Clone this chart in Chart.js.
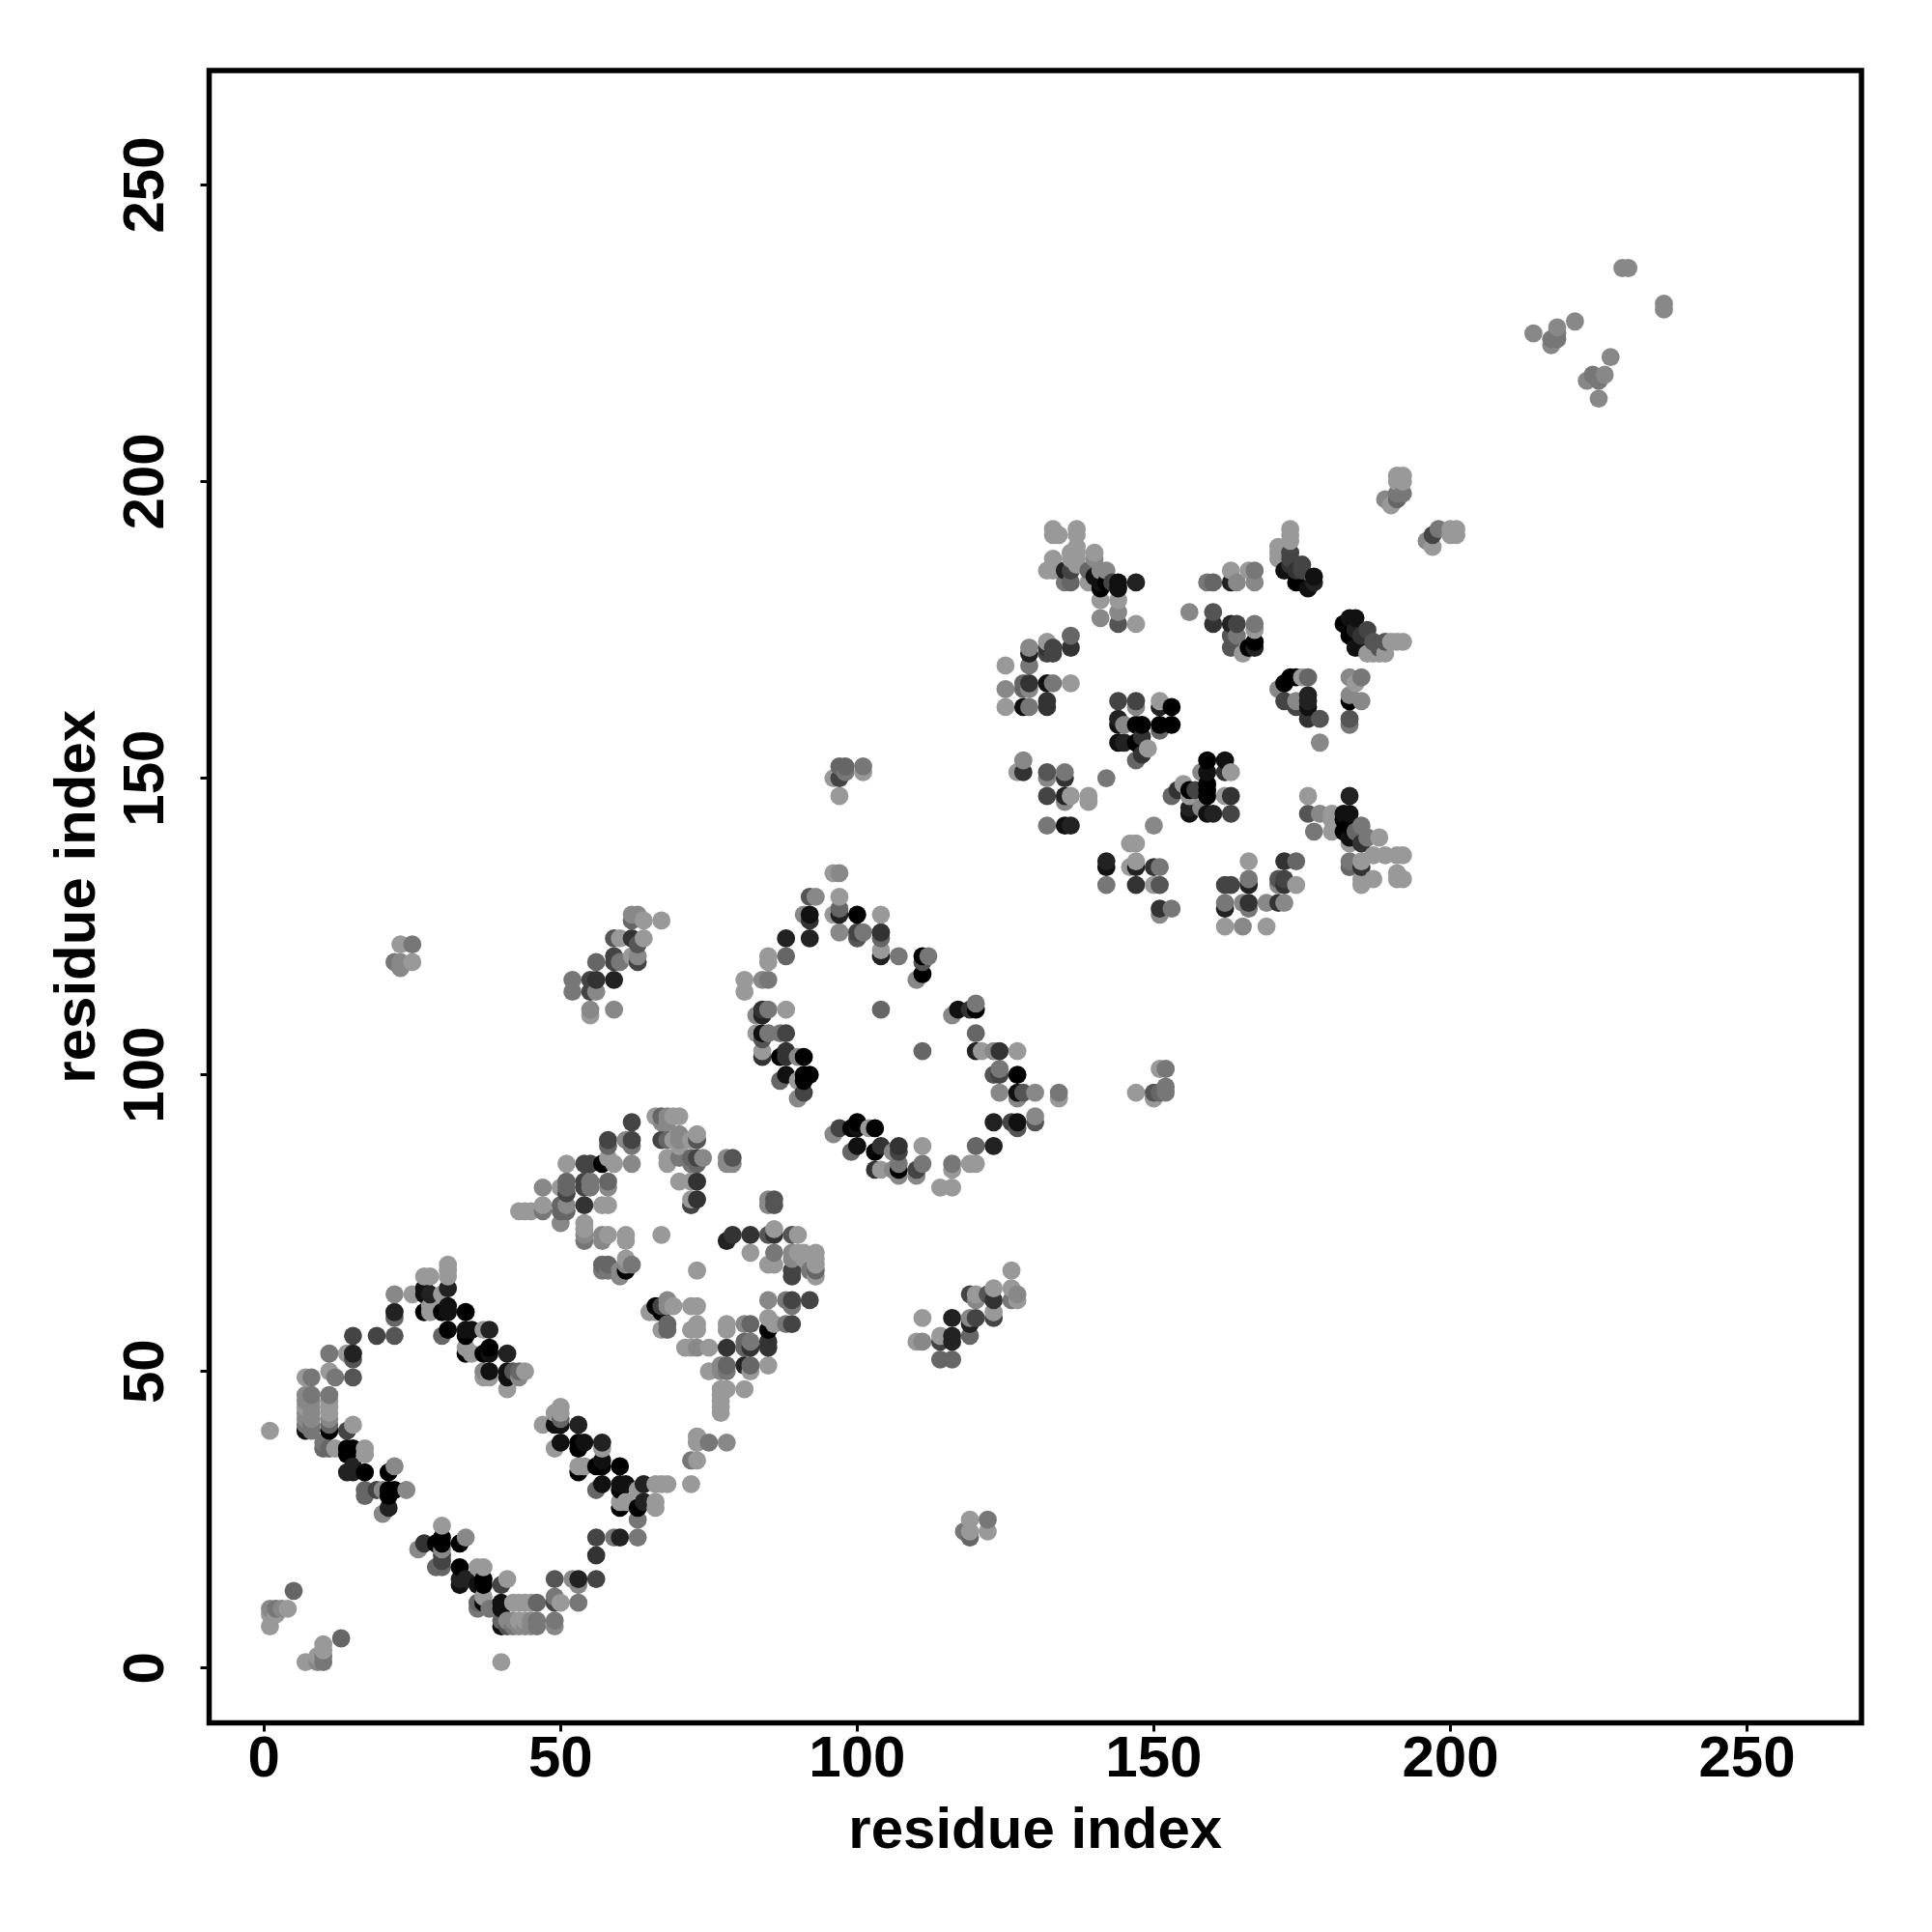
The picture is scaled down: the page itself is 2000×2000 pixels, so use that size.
<!DOCTYPE html>
<html>
<head>
<meta charset="utf-8">
<style>html,body{margin:0;padding:0;background:#fff}canvas{display:block}</style>
<script src="https://cdn.jsdelivr.net/npm/chart.js@4/dist/chart.umd.min.js"></script>
</head>
<body>
<canvas id="c" width="2000" height="2000"></canvas>
<script>
// Each contact: [residue x, residue y, darkness level 0 (strongest) .. 9 (weakest)]
const xTicks = [0, 50, 100, 150, 200, 250];
const yTicks = [0, 50, 100, 150, 200, 250];
const axisLabel = "residue index";

const nearOrigin = [[5,13,6],[1,10,8],[2,10,7],[3,10,8],[4,10,9],[2,9,9],[1,9,9],[1,7,9],[13,5,6],[10,4,9],[10,3,9],[9,2,9],[7,1,9],[9,1,8],[10,1,7],[10,2,7],[40,1,9],[1,40,9]];
const ringLeft = [[7,40,1],[7,41,7],[7,42,8],[7,43,8],[7,44,9],[7,45,8],[7,46,8],[8,40,7],[8,41,7],[8,42,8],[8,43,8],[8,44,8],[8,45,8],[8,46,7],[11,40,0],[11,41,6],[11,42,8],[11,43,9],[11,44,9],[11,45,9],[11,46,7],[7,49,9],[8,49,7],[11,50,9],[12,49,7],[15,49,5],[11,53,7],[14,53,9],[15,53,2],[15,52,5],[15,56,4],[19,56,4],[22,56,5],[22,60,2],[22,59,6],[22,63,8],[25,63,9]];
const ringTop = [[27,66,9],[28,66,9],[27,64,1],[27,63,1],[28,63,2],[27,60,0],[28,60,9],[28,61,9],[31,68,9],[31,67,9],[31,66,9],[31,64,2],[30,63,9],[31,61,1],[30,60,0],[31,60,1],[34,60,0],[30,56,6],[31,57,0],[34,57,1],[34,56,0],[35,57,1],[37,57,9],[38,57,2],[34,54,9],[34,53,0],[35,53,9],[37,53,0],[38,54,0],[38,53,1],[41,53,2],[37,50,8],[37,49,9],[38,50,1],[38,49,9],[41,50,1],[41,49,1],[42,50,5],[43,50,6],[44,50,9],[41,47,9],[43,49,8]];
const ringLowerLeft = [[15,41,9],[14,40,4],[10,38,7],[10,37,6],[11,37,6],[12,37,9],[14,37,0],[14,36,0],[15,37,0],[17,37,9],[17,36,9],[14,33,2],[15,34,2],[15,33,2],[17,33,0],[22,34,8],[21,33,0],[17,30,6],[17,29,6],[19,30,4],[20,30,8],[21,30,0],[22,30,0],[21,29,0],[24,30,8],[21,27,2],[20,26,8]];
const ringBottom = [[30,24,9],[27,21,3],[26,20,8],[29,21,0],[30,22,0],[30,21,0],[30,20,8],[30,19,4],[30,18,4],[29,17,6],[30,17,6],[33,21,0],[34,22,8],[33,17,0],[33,14,1],[33,15,2],[34,15,2],[36,17,9],[37,17,9],[37,15,0],[37,14,0],[36,14,1],[41,15,9],[40,14,4],[36,11,6],[36,10,7],[37,11,0],[37,12,9],[38,10,7],[40,11,1],[40,10,1],[42,11,9],[43,11,9],[44,11,9],[45,11,9],[46,11,6],[40,7,1],[40,8,6],[41,7,5],[41,8,8],[42,7,7],[42,8,8],[43,7,8],[43,8,9],[44,7,8],[44,8,9],[45,7,8],[45,8,8],[46,7,7],[46,8,7],[49,8,7],[49,7,8],[49,15,5],[49,12,7],[49,11,4],[50,11,9],[52,15,8],[53,15,2],[53,14,8],[53,11,7],[56,15,4],[56,19,3],[56,22,4],[59,22,7],[60,22,2],[63,22,7],[63,25,7]];
const ringRight = [[50,44,9],[50,43,9],[49,43,9],[50,42,6],[49,41,1],[50,41,1],[47,41,9],[53,41,2],[49,37,9],[50,38,1],[53,38,0],[54,38,1],[53,37,0],[57,38,2],[57,37,9],[53,34,9],[53,33,0],[54,34,9],[56,34,0],[57,35,1],[57,34,0],[60,34,0],[56,30,6],[57,31,1],[60,31,1],[60,30,0],[61,31,1],[64,31,2],[63,30,9],[66,31,9],[67,31,9],[68,31,9],[60,28,9],[60,27,0],[61,28,9],[63,27,0],[64,28,2],[66,28,9],[66,27,9],[72,31,9],[72,35,7],[73,35,9],[73,39,9],[73,38,8],[75,38,7],[78,38,8]];
const blockNorth = [[62,92,4],[58,89,4],[58,88,6],[61,89,8],[62,89,4],[62,88,7],[51,85,9],[54,85,4],[55,85,4],[57,85,0],[58,86,9],[59,85,9],[62,85,8],[47,81,8],[50,81,9],[51,82,6],[51,81,6],[51,80,4],[54,82,4],[54,81,4],[55,82,7],[55,81,7],[58,82,6],[58,81,8],[43,77,9],[44,77,9],[45,77,9],[47,78,9],[47,77,7],[50,78,6],[50,77,6],[51,78,8],[51,77,6],[50,75,8],[54,78,3],[54,75,9],[54,74,9],[57,78,9],[58,78,9],[54,73,8],[54,72,7],[57,73,8],[57,72,8],[58,73,9],[61,73,9],[61,72,9],[67,73,9],[57,68,6],[57,67,7],[58,68,6],[58,67,7],[60,67,8],[60,66,8],[61,69,9],[61,67,0],[61,68,8],[62,68,7]];
const blockCrest = [[66,93,9],[67,93,6],[68,93,8],[69,93,9],[70,93,9],[67,92,8],[68,92,8],[67,89,4],[68,89,6],[69,89,9],[70,90,8],[70,89,8],[70,88,9],[72,89,9],[73,90,9],[73,89,5],[68,86,9],[68,85,9],[70,86,7],[72,86,6],[72,85,7],[73,86,4],[73,85,6],[74,86,8],[78,86,8],[79,86,5],[78,85,8],[79,85,8],[70,82,9],[72,82,9],[73,82,3],[72,79,9],[72,78,4],[73,79,3],[85,79,8],[86,79,5],[85,78,8],[86,78,5]];
const blockEast = [[78,72,2],[79,73,3],[82,73,3],[82,70,9],[85,73,5],[86,73,3],[86,74,9],[89,73,5],[90,73,9],[86,70,7],[85,68,9],[86,68,9],[89,70,8],[90,70,9],[89,69,8],[89,67,4],[89,66,4],[93,70,9],[93,69,9],[93,68,9],[93,67,6],[93,66,9],[92,67,7],[91,70,9],[91,69,9],[73,67,9]];
const blockSouth = [[65,60,9],[66,61,0],[67,61,4],[68,62,8],[69,61,9],[66,60,9],[67,60,0],[68,58,6],[68,57,6],[67,57,9],[68,61,8],[72,61,9],[73,61,9],[72,57,9],[73,58,9],[73,57,9],[85,62,8],[88,62,7],[89,62,4],[89,61,7],[92,62,4],[85,59,9],[78,58,9],[78,57,9],[81,58,8],[82,58,6],[85,57,0],[86,58,9],[88,58,7],[89,58,4],[85,55,3],[85,54,3],[82,55,7],[81,55,6],[82,54,3],[81,54,6],[78,54,3],[75,54,9],[73,54,8],[72,54,9],[71,54,9],[75,50,9],[77,51,8],[78,51,6],[78,50,7],[77,50,8],[81,51,2],[82,51,6],[82,50,9],[85,51,9],[78,47,9],[77,47,9],[77,46,9],[77,45,9],[77,44,9],[77,43,9],[81,47,9],[73,39,9],[73,38,9]];
const loopUpperLeft = [[96,134,9],[97,134,8],[92,130,5],[93,130,8],[97,130,9],[97,128,6],[91,127,8],[92,127,1],[92,126,3],[96,127,9],[97,127,2],[100,127,0],[104,127,9],[88,123,2],[92,123,2],[97,124,8],[100,124,4],[100,123,5],[101,124,7],[104,124,3],[104,123,6],[104,121,9],[104,120,2],[107,120,7],[85,120,9],[85,119,9],[88,120,6],[81,116,9],[81,114,9],[84,116,8],[85,116,7],[111,120,0],[112,120,7],[111,119,5],[111,117,0],[110,116,8],[84,111,3],[85,111,7],[88,111,9],[83,110,8],[84,110,2],[104,111,6]];
const loopLowerLeft = [[83,107,9],[84,107,1],[85,107,7],[84,106,5],[87,107,7],[88,107,4],[84,104,9],[84,103,3],[87,103,0],[88,104,3],[88,103,3],[90,103,8],[91,103,0],[87,99,6],[88,100,1],[90,99,9],[91,99,0],[92,100,0],[91,100,0],[91,97,4],[90,96,8],[111,104,6]];
const loopRight = [[116,110,8],[117,111,1],[119,111,3],[120,111,0],[120,112,7],[120,107,6],[120,104,2],[121,104,9],[123,104,8],[124,104,3],[127,104,9],[123,100,5],[124,101,7],[124,100,4],[127,100,0],[124,97,8],[127,97,1],[128,97,5],[127,96,8],[130,97,8],[134,97,7],[134,96,9],[123,92,2],[126,92,4],[127,92,1],[127,91,5],[130,93,8],[130,92,5],[120,88,6],[123,88,2],[116,85,7],[116,84,9],[119,85,9],[120,85,9],[114,81,9],[116,81,9]];
const loopBottom = [[96,90,8],[97,91,4],[99,91,0],[100,92,0],[100,91,1],[102,91,9],[103,91,0],[99,87,6],[100,88,1],[103,87,0],[104,88,3],[107,88,3],[107,87,4],[111,88,9],[106,87,8],[103,84,3],[104,84,9],[106,84,8],[107,85,7],[107,84,0],[107,83,8],[110,84,4],[111,85,7],[110,83,8]];
const sideA = [[23,122,9],[25,122,7],[22,119,7],[23,119,8],[25,119,9],[23,118,8],[52,116,7],[52,114,7],[55,116,4],[56,116,3],[59,116,2],[55,114,4],[56,114,8],[55,111,8],[55,110,9],[59,111,8],[56,119,6],[59,119,4],[59,120,4],[60,119,7],[59,123,5],[60,123,9],[62,123,3],[63,122,5],[64,123,9],[62,120,9],[63,120,8],[63,119,4],[62,127,8],[63,127,8],[62,126,6],[64,126,9],[67,126,9]];
const sideB = [[96,150,9],[97,152,6],[98,152,6],[97,150,4],[98,151,7],[101,152,7],[101,151,9],[97,147,9],[147,97,9],[151,101,9],[152,101,7],[150,97,5],[150,96,9],[151,97,6],[152,97,7],[152,98,7]];
const sideC = [[126,67,9],[111,59,9],[110,55,9],[111,55,8],[114,56,9],[114,55,4],[116,59,2],[116,56,2],[116,55,2],[114,52,6],[116,52,6],[119,56,6],[119,59,8],[119,58,2],[120,59,4],[119,63,4],[120,63,9],[120,62,8],[122,63,5],[123,64,9],[123,62,3],[123,60,9],[123,59,4],[126,64,9],[126,62,7],[127,63,8],[127,62,9],[119,25,9],[122,25,7],[122,23,9],[118,23,7],[119,23,9],[119,22,6]];
const wheelSouthWest = [[128,153,8],[127,151,9],[128,151,3],[132,151,5],[132,150,8],[135,151,7],[135,150,3],[142,150,7],[132,147,4],[135,147,2],[135,146,8],[136,147,9],[139,147,9],[139,146,9],[132,142,7],[135,142,1],[136,142,2],[150,142,8],[146,139,9],[147,139,9],[142,136,2],[142,135,1],[142,132,7],[147,136,9],[146,135,9],[147,135,2],[150,135,3],[151,135,7],[147,132,3],[150,132,9],[151,132,5],[151,128,3],[153,128,7],[151,127,8]];
const wheelCentre = [[155,149,9],[153,147,6],[154,148,3],[156,148,0],[156,147,9],[157,148,4],[159,153,0],[159,151,1],[158,151,8],[162,153,1],[162,151,3],[163,151,9],[159,148,0],[159,147,0],[159,149,0],[162,147,9],[163,147,3],[156,145,2],[156,144,1],[159,144,1],[160,144,2],[158,145,8],[163,144,4]];
const wheelEast = [[176,147,9],[183,147,2],[176,144,5],[178,144,8],[180,144,9],[177,141,7],[180,141,9],[180,143,9],[182,144,1],[183,144,1],[182,143,0],[182,141,0],[183,142,0],[184,141,6],[185,142,7],[183,140,1],[186,140,7],[188,140,9],[183,139,9],[185,139,3],[183,136,7],[183,135,6],[185,136,9],[187,137,9],[189,137,9],[191,137,9],[192,137,9],[185,135,3],[185,133,9],[185,132,9],[187,133,9],[191,134,9],[191,133,9],[192,133,9]];
const wheelSouth = [[162,132,4],[163,132,4],[166,136,9],[166,133,7],[166,132,2],[172,136,3],[174,136,6],[171,133,5],[171,132,8],[172,133,4],[172,132,3],[174,132,9],[162,129,7],[162,128,2],[165,129,8],[166,129,3],[166,128,7],[169,129,8],[171,129,3],[172,129,8],[162,125,9],[165,125,8],[169,125,9]];
const wheelNorthWest = [[133,192,9],[133,191,9],[134,191,9],[137,192,9],[137,191,9],[137,189,9],[136,188,9],[137,188,9],[140,188,9],[133,187,9],[136,187,9],[137,187,9],[140,187,8],[132,185,9],[133,185,9],[136,185,4],[137,186,9],[135,185,2],[135,183,7],[136,183,6],[139,185,6],[139,183,9],[140,184,1],[141,185,8],[141,183,1],[142,185,8],[142,183,0],[143,183,4],[144,183,1],[144,182,1],[147,183,2],[141,182,0],[141,180,9],[144,180,9],[144,178,8],[141,177,8],[144,176,5],[147,176,9]];
const wheelNorth = [[159,183,7],[160,183,6],[163,185,9],[163,183,2],[164,183,8],[166,185,9],[167,185,7],[167,183,8],[156,178,8],[160,178,5],[160,176,3],[163,176,2],[164,176,4],[167,176,7],[167,175,9],[163,174,5],[164,174,7],[167,173,0],[167,172,2],[166,172,0],[163,172,5],[165,171,9]];
const wheelNorthEast = [[173,192,9],[173,191,9],[173,190,9],[171,189,9],[171,188,9],[171,187,9],[173,188,4],[173,187,4],[173,186,3],[172,185,1],[175,186,4],[174,185,3],[175,185,4],[174,183,0],[176,182,1],[177,184,1],[177,183,2],[183,177,1],[184,177,1],[182,176,0],[183,174,0],[184,175,2],[186,175,4],[185,174,3],[185,172,1],[184,172,1],[186,171,9],[187,171,9],[188,172,5],[188,171,9],[189,171,9],[189,173,5],[190,173,9],[191,173,9],[192,173,9],[187,173,5]];
const wheelInnerEast = [[176,167,6],[175,167,9],[173,167,0],[171,165,8],[172,166,0],[174,167,0],[172,163,4],[174,163,8],[174,162,4],[176,164,2],[176,163,2],[176,162,1],[176,160,3],[178,160,5],[178,156,8],[183,167,8],[185,167,7],[184,166,9],[183,164,8],[183,163,0],[185,163,8],[183,160,5],[183,159,7]];
const wheelWest = [[132,173,9],[136,174,6],[136,172,3],[129,172,8],[129,171,2],[132,172,3],[133,172,4],[133,171,4],[132,171,4],[129,169,7],[125,169,9],[125,165,8],[125,162,9],[128,166,6],[129,166,3],[128,165,6],[129,165,8],[132,166,1],[133,166,7],[136,166,9],[128,162,1],[129,162,7],[132,163,3],[132,162,3]];
const wheelInnerWest = [[144,163,4],[147,163,4],[147,162,8],[151,163,9],[151,162,2],[153,162,0],[144,160,2],[144,159,1],[145,159,8],[147,159,0],[148,159,0],[151,159,0],[151,158,6],[153,159,0],[144,156,1],[145,156,2],[147,156,0],[148,157,3],[148,154,3],[149,155,9],[147,153,6]];
const tailA = [[191,201,9],[192,201,9],[191,200,9],[192,200,9],[192,198,7],[191,198,7],[191,197,6],[189,197,8],[190,196,9],[198,192,7],[197,191,4],[196,190,8],[197,189,9],[200,191,9],[201,191,9],[200,192,9],[201,192,9]];
const tailB = [[229,236,8],[230,236,8],[236,230,8],[236,229,8],[221,227,8],[214,225,8],[218,226,8],[218,225,7],[217,224,7],[217,223,8],[218,224,7],[227,221,8],[223,217,8],[224,218,7],[225,217,7],[226,218,8],[225,214,8]];

const contacts = [nearOrigin, ringLeft, ringTop, ringLowerLeft, ringBottom, ringRight, blockNorth, blockCrest, blockEast, blockSouth, loopUpperLeft, loopLowerLeft, loopRight, loopBottom, sideA, sideB, sideC, wheelSouthWest, wheelCentre, wheelEast, wheelSouth, wheelNorthWest, wheelNorth, wheelNorthEast, wheelInnerEast, wheelWest, wheelInnerWest, tailA, tailB]
  .flat()
  .sort((a, b) => a[0] - b[0] || a[1] - b[1]);

function grey(level) {
  const v = level * 17;
  return `rgb(${v},${v},${v})`;
}

const frame = {
  id: "frame",
  afterDraw(chart) {
    const { ctx, chartArea: a } = chart;
    ctx.save();
    ctx.strokeStyle = "#000";
    ctx.lineWidth = 5.5;
    ctx.lineJoin = "miter";
    ctx.strokeRect(a.left, a.top, a.right - a.left, a.bottom - a.top);
    ctx.restore();
  }
};

const axisFont = { family: "'Liberation Sans', Arial, sans-serif", weight: "bold" };

function axisCommon(tickValues) {
  return {
    type: "linear",
    min: -9.25,
    max: 269.3,
    afterBuildTicks(scale) { scale.ticks = tickValues.map(v => ({ value: v })); },
    border: { display: false },
    grid: { drawOnChartArea: false, drawTicks: true, tickLength: 9, tickColor: "#000", tickWidth: 3 },
    title: { display: true, text: axisLabel, color: "#000", font: { ...axisFont, size: 60 } }
  };
}

const xAxis = axisCommon(xTicks);
xAxis.ticks = { color: "#000", font: { ...axisFont, size: 60 }, padding: -6, maxRotation: 0, autoSkip: false };
xAxis.title.padding = { top: 0, bottom: 68 };
xAxis.afterFit = s => { s.height = 216.5; };

const yAxis = axisCommon(yTicks);
yAxis.ticks = { color: "#000", font: { ...axisFont, size: 60 }, padding: 5, minRotation: 90, maxRotation: 90, crossAlign: "center", autoSkip: false };
yAxis.title.padding = { top: 45, bottom: 0 };
yAxis.afterFit = s => { s.width = 216.5; };

new Chart(document.getElementById("c"), {
  type: "scatter",
  data: {
    datasets: [{
      data: contacts.map(c => ({ x: c[0], y: c[1] })),
      backgroundColor: contacts.map(c => grey(c[2])),
      borderWidth: 0,
      pointRadius: 9.4,
      pointHoverRadius: 9.4
    }]
  },
  options: {
    responsive: false,
    animation: false,
    devicePixelRatio: 1,
    layout: { padding: { top: 73, right: 73, left: 0, bottom: 0 } },
    plugins: { legend: { display: false }, tooltip: { enabled: false } },
    scales: { x: xAxis, y: yAxis }
  },
  plugins: [frame]
});
</script>
</body>
</html>
